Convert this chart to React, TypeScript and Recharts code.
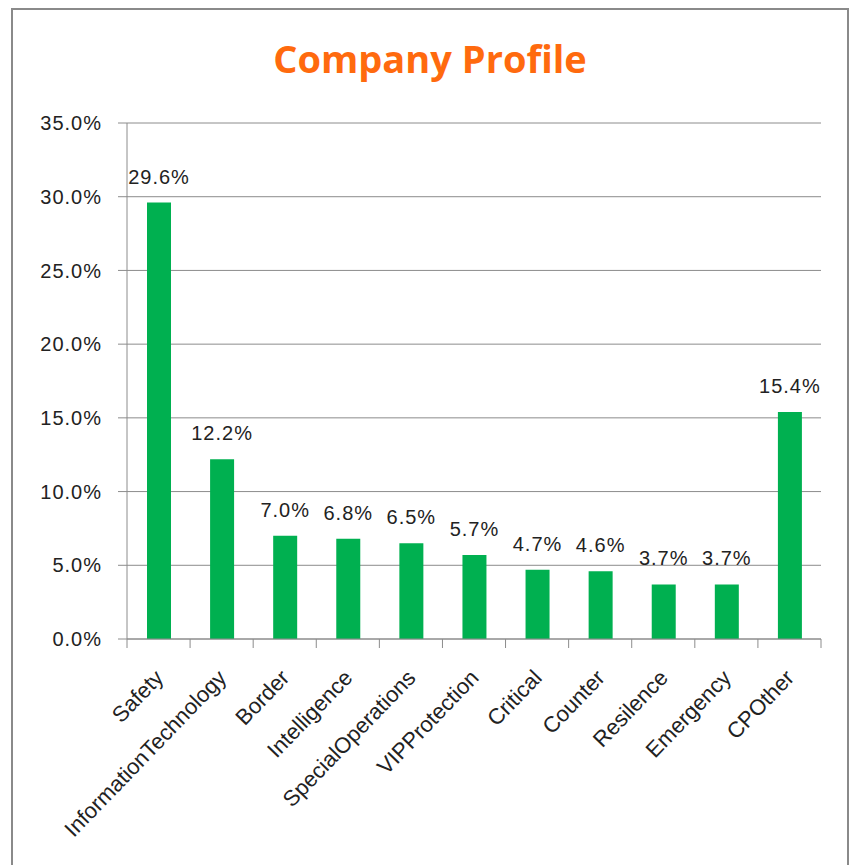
import { BarChart, Bar, XAxis, YAxis, CartesianGrid, LabelList } from "recharts";

const categories = [
  "Safety",
  "InformationTechnology",
  "Border",
  "Intelligence",
  "SpecialOperations",
  "VIPProtection",
  "Critical",
  "Counter",
  "Resilence",
  "Emergency",
  "CPOther",
];
const shares = [29.6, 12.2, 7.0, 6.8, 6.5, 5.7, 4.7, 4.6, 3.7, 3.7, 15.4];
const yTicks = [0, 5, 10, 15, 20, 25, 30, 35];

const data = categories.map((name, i) => ({ name, value: shares[i] }));

const GRID = "#8c8c8c";
const TEXT = "#222";
const FONT = "'Liberation Sans', Arial, sans-serif";
const numStyle = { fontFamily: FONT, fontSize: 20, letterSpacing: 1, fill: TEXT };

const pct = (v: number) => `${Number(v).toFixed(1)}%`;

function CategoryTick(props: any) {
  const { x, y, payload, index } = props;
  const half = payload.offset ?? 0;
  const ax = x + 6;
  const ay = y + 40;
  return (
    <g>
      <line x1={x - half} x2={x - half} y1={y} y2={y + 9} stroke={GRID} />
      {index === categories.length - 1 ? (
        <line x1={x + half} x2={x + half} y1={y} y2={y + 9} stroke={GRID} />
      ) : null}
      <text
        x={ax}
        y={ay}
        textAnchor="end"
        transform={`rotate(-46, ${ax}, ${ay})`}
        fontFamily={FONT}
        fontSize={22}
        fill={TEXT}
      >
        {payload.value}
      </text>
    </g>
  );
}

export default function App() {
  return (
    <div
      style={{
        position: "absolute",
        left: 0,
        top: 0,
        width: 853,
        height: 865,
        overflow: "hidden",
        background: "#fff",
      }}
    >
      <div
        style={{
          position: "absolute",
          left: 11,
          top: 8,
          width: 838,
          height: 900,
          border: "2px solid #8a8a8a",
          boxSizing: "border-box",
        }}
      />
      <div
        style={{
          position: "absolute",
          left: 11,
          width: 838,
          top: 32,
          textAlign: "center",
          fontFamily: "'Open Sans', sans-serif",
          fontWeight: 700,
          fontSize: 38,
          lineHeight: "52px",
          color: "#ff6a0e",
        }}
      >
        Company Profile
      </div>
      <div style={{ position: "absolute", left: 0, top: 0 }}>
        <BarChart
          width={853}
          height={865}
          data={data}
          margin={{ top: 123, right: 32, bottom: 0, left: 27 }}
        >
          <CartesianGrid vertical={false} stroke={GRID} />
          <XAxis
            dataKey="name"
            interval={0}
            height={226}
            tickLine={false}
            tickSize={0}
            tickMargin={0}
            axisLine={{ stroke: GRID }}
            tick={<CategoryTick />}
          />
          <YAxis
            width={100}
            domain={[0, 35]}
            ticks={yTicks}
            tickFormatter={pct}
            tickSize={9}
            tickMargin={16}
            axisLine={{ stroke: GRID }}
            tickLine={{ stroke: GRID }}
            tick={numStyle}
          />
          <Bar dataKey="value" fill="#00b050" barSize={24} isAnimationActive={false}>
            <LabelList
              dataKey="value"
              position="top"
              offset={19}
              formatter={pct}
              style={numStyle}
            />
          </Bar>
        </BarChart>
      </div>
    </div>
  );
}
